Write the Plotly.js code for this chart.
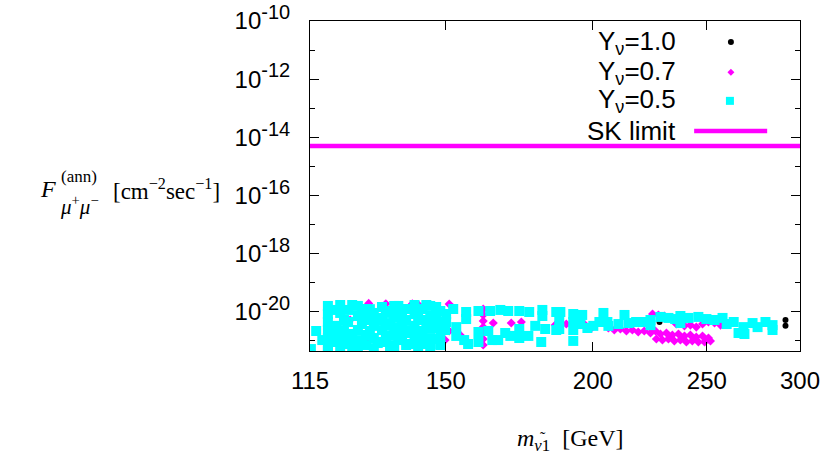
<!DOCTYPE html>
<html>
<head>
<meta charset="utf-8">
<script src="https://cdn.plot.ly/plotly-3.0.1.min.js"></script>
<style>html,body{margin:0;padding:0;background:#fff;}#chart{width:829px;height:459px;}</style>
</head>
<body>
<div id="chart"></div>
<script>
// Y_nu = 1.0 (black)
const massY10 = [227.9, 227.9, 291.6, 291.6];
const fluxY10 = [7.0e-21, 4.35e-21, 5.1e-21, 3.2e-21];

// Y_nu = 0.7 (magenta)
const massY07 = [129.0, 133.4, 140.5, 142.1, 121.0, 129.6, 140.8, 122.5, 129.3, 151.0, 151.0, 149.8,
  161.4, 161.4, 161.4, 161.4, 161.4, 161.4, 161.4, 164.6, 170.5, 173.9, 185.8,
  124.4, 135.8, 145.5, 154.3,
  187.7, 189.9, 197.1, 199.8, 206.2, 208.6, 211.1, 213.6, 216.1, 218.6, 221.2, 223.9, 226.1, 228.3,
  231.0, 233.7, 236.5, 239.3, 242.1, 244.9, 247.9, 250.8,
  226.5, 229.2, 231.9, 234.6, 237.4, 240.2, 243.0, 245.9, 248.9, 251.8,
  224.8, 227.4, 230.1, 235.5, 239.3, 242.1, 244.9, 247.9, 250.8, 253.8, 256.8, 259.9];
const fluxY07 = [1.9e-20, 1.85e-20, 1.85e-20, 1.75e-20, 3.2e-21, 2.5e-21, 2.7e-21, 7.0e-22, 1.04e-21, 1.8e-20, 2.13e-21, 1.04e-21,
  1.22e-20, 7.6e-21, 4.7e-21, 2.9e-21, 1.82e-21, 1.13e-21, 7.0e-22, 4.0e-21, 4.0e-21, 4.35e-21, 3.4e-21,
  5.1e-21, 2.3e-21, 6.0e-21, 1.55e-21,
  4.0e-21, 3.7e-21, 3.4e-21, 2.9e-21, 2.7e-21, 2.3e-21, 2.5e-21, 2.13e-21, 2.3e-21, 1.97e-21, 2.13e-21, 1.82e-21, 2.13e-21, 1.68e-21,
  1.82e-21, 1.55e-21, 1.68e-21, 1.44e-21, 1.55e-21, 1.32e-21, 1.44e-21, 1.22e-21,
  1.13e-21, 1.04e-21, 1.13e-21, 9.7e-22, 1.04e-21, 8.9e-22, 9.7e-22, 8.9e-22, 8.9e-22, 9.7e-22,
  8.2e-21, 7.6e-21, 7.0e-21, 3.7e-21, 3.2e-21, 3.4e-21, 2.9e-21, 3.7e-21, 4.35e-21, 4.0e-21, 3.4e-21, 3.7e-21];

// Y_nu = 0.5 (cyan)
const massY05 = [115.2, 116.4,
  119.1, 119.1, 119.1, 119.1, 119.1, 119.1, 119.1,
  122.0, 122.0, 122.0, 122.0, 121.0,
  123.9, 123.9, 123.9, 123.9,
  126.3, 126.3, 126.3, 126.3, 126.3,
  128.3, 128.3, 128.3, 128.3,
  130.3, 130.3, 130.3, 130.3,
  132.4, 132.4, 132.4, 132.4,
  134.5, 134.5, 134.5, 134.5,
  136.7, 136.7, 136.7, 136.7,
  138.8, 138.8, 138.8, 138.8,
  141.1, 141.1, 141.1, 141.1,
  143.3, 143.3, 143.3, 143.3,
  145.5, 145.5, 145.5, 145.5, 145.5,
  148.4, 148.4, 148.4, 148.4,
  120.6, 120.6, 120.6, 122.9, 122.9, 124.9, 124.9, 124.9, 127.3, 127.3, 127.3,
  129.3, 129.3, 129.3, 131.3, 131.3, 133.4, 133.4, 133.4, 135.6, 135.6, 135.6, 135.6,
  137.7, 137.7, 137.7, 139.9, 139.9, 139.9, 142.1, 142.1, 142.1, 144.4, 144.4, 144.4,
  147.2, 147.2, 147.2, 147.2, 150.1, 150.1, 117.8,
  152.2, 156.1, 156.1, 159.9, 163.6, 166.9, 169.5, 173.2, 176.6, 181.2, 181.2, 186.2,
  146.9, 149.8, 148.4, 153.1, 153.1, 155.5, 156.7, 159.9, 159.9, 163.0, 164.3, 166.2, 168.5, 170.2,
  173.2, 173.2, 176.3, 178.7, 182.2, 180.8, 186.2,
  187.7, 187.3, 187.3, 192.5, 192.5, 192.5, 192.5, 195.9, 195.2, 197.9, 200.2, 202.6, 204.2, 205.8,
  206.2, 210.3, 212.8, 214.5, 217.7, 220.8, 223.9, 223.9, 228.3, 231.9, 235.0, 237.4, 237.4,
  241.2, 245.9, 249.8, 253.8, 257.8, 259.9, 263.5, 266.0, 269.1, 268.6, 273.4, 276.1, 280.4, 284.3, 284.3];
const fluxY05 = [5.1e-22, 2.13e-21,
  1.55e-20, 8.2e-21, 4.35e-21, 2.3e-21, 1.22e-21, 6.5e-22, 4.4e-22,
  1.67e-20, 8.9e-21, 1.13e-21, 6.0e-22, 3.2e-21,
  1.13e-20, 4.35e-21, 1.68e-21, 7.6e-22,
  1.55e-20, 7.0e-21, 2.3e-21, 1.04e-21, 5.1e-22,
  1.22e-20, 5.1e-21, 1.55e-21, 7.0e-22,
  8.9e-21, 3.2e-21, 1.22e-21, 5.5e-22,
  1.43e-20, 6.0e-21, 2.3e-21, 8.9e-22,
  1.04e-20, 4.0e-21, 1.44e-21, 6.0e-22,
  1.55e-20, 7.0e-21, 2.7e-21, 1.04e-21,
  1.22e-20, 5.1e-21, 1.82e-21, 7.0e-22,
  1.67e-20, 8.2e-21, 3.2e-21, 1.13e-21,
  1.22e-20, 5.1e-21, 2.13e-21, 7.6e-22,
  1.55e-20, 7.0e-21, 2.7e-21, 1.22e-21, 6.0e-22,
  1.04e-20, 4.35e-21, 1.68e-21, 7.6e-22,
  1.13e-20, 1.68e-21, 8.9e-22, 5.1e-21, 2.3e-21, 1.67e-20, 1.04e-21, 5.1e-22, 9.6e-21, 3.7e-21, 7.6e-22,
  1.2e-20, 6.0e-21, 2.13e-21, 5.1e-21, 8.2e-22, 8.9e-21, 3.2e-21, 1.13e-21, 1.55e-20, 6.0e-21, 2.13e-21, 6.5e-22,
  9.6e-21, 3.7e-21, 1.44e-21, 1.22e-20, 2.3e-21, 7.6e-22, 7.0e-21, 1.55e-21, 5.5e-22, 1.67e-20, 3.7e-21, 1.04e-21,
  1.43e-20, 7.0e-21, 2.7e-21, 1.13e-21, 8.2e-21, 4.35e-21, 1.04e-21,
  1.22e-20, 9.6e-21, 5.5e-21, 1.04e-20, 1.04e-20, 1.13e-20, 1.04e-20, 1.04e-20, 9.6e-21, 1.13e-20, 7.0e-21, 9.6e-21,
  4.35e-21, 2.3e-21, 7.0e-22, 2.9e-21, 1.44e-21, 1.04e-21, 7.6e-22, 1.97e-21, 8.9e-22, 2.13e-21, 1.04e-21, 1.04e-21, 1.82e-21, 1.44e-21,
  2.5e-21, 1.22e-21, 1.44e-21, 3.2e-21, 2.5e-21, 8.9e-22, 2.3e-21,
  9.6e-21, 4.35e-21, 2.5e-21, 8.2e-21, 4.35e-21, 2.3e-21, 9.7e-22, 7.6e-21, 3.7e-21, 2.7e-21, 3.2e-21, 4.35e-21, 8.9e-21, 4.35e-21,
  3.2e-21, 3.7e-21, 7.6e-21, 4.0e-21, 4.35e-21, 4.35e-21, 5.1e-21, 3.4e-21, 6.5e-21, 6.0e-21, 5.5e-21, 7.0e-21, 4.0e-21,
  6.0e-21, 6.5e-21, 5.5e-21, 5.1e-21, 6.0e-21, 3.7e-21, 4.35e-21, 1.82e-21, 1.68e-21, 2.9e-21, 4.0e-21, 2.9e-21, 4.35e-21, 3.4e-21, 2.3e-21];

// SK limit
const skMass = [115, 300];
const skFlux = [5.0e-15, 5.0e-15];

// Axis ticks
const xTickVals = [115, 150, 200, 250, 300];
const xTickText = ['115', '150', '200', '250', '300'];
const yTickVals = [1e-10, 1e-12, 1e-14, 1e-16, 1e-18, 1e-20];
const yExponents = ['-10', '-12', '-14', '-16', '-18', '-20'];
const yMinorVals = [1e-11, 1e-13, 1e-15, 1e-17, 1e-19, 1e-21];

const legendLabels = ['Y<sub>ν</sub>=1.0', 'Y<sub>ν</sub>=0.7', 'Y<sub>ν</sub>=0.5', 'SK limit'];

const sans = 'Liberation Sans, Arial, sans-serif';
const serif = 'Liberation Serif, DejaVu Serif, serif';

const yTickText = yExponents.map(e => '10<sup><span style="font-size:20px">' + e + '</span></sup>');

const traces = [
  {x: massY10, y: fluxY10, type: 'scatter', mode: 'markers', name: legendLabels[0],
   marker: {symbol: 'circle', size: 6, color: '#000000'}},
  {x: massY07, y: fluxY07, type: 'scatter', mode: 'markers', name: legendLabels[1],
   marker: {symbol: 'diamond', size: 7, color: '#ff00ff'}},
  {x: massY05, y: fluxY05, type: 'scatter', mode: 'markers', name: legendLabels[2],
   marker: {symbol: 'square', size: 10, color: '#00ffff'}},
  {x: skMass, y: skFlux, type: 'scatter', mode: 'lines', name: legendLabels[3],
   line: {color: '#ff00ff', width: 4.5}}
];

// legend (gnuplot style: text left, key right)
const legY = [0.936, 0.845, 0.758, 0.667];
const annotations = legendLabels.map((t, i) => ({
  text: t, xref: 'paper', yref: 'paper', x: 0.751, y: legY[i], xanchor: 'right', yanchor: 'middle',
  showarrow: false, font: {family: sans, size: 26, color: '#000'}
}));
annotations.push(
  {text: '<i>m</i><sub><i>ν</i>1</sub>  [GeV]', xref: 'paper', yref: 'paper', x: 0.531, y: -0.27,
   xanchor: 'center', yanchor: 'middle', showarrow: false, font: {family: serif, size: 24, color: '#000'}},
  {text: '˜', xref: 'paper', yref: 'paper', x: 0.476, y: -0.262,
   xanchor: 'center', yanchor: 'middle', showarrow: false, font: {family: serif, size: 16, color: '#000'}},
  {text: '<i>F</i>', xref: 'paper', yref: 'paper', x: -0.535, y: 0.49,
   xanchor: 'center', yanchor: 'middle', showarrow: false, font: {family: serif, size: 24, color: '#000'}},
  {text: '(ann)', xref: 'paper', yref: 'paper', x: -0.472, y: 0.53,
   xanchor: 'center', yanchor: 'middle', showarrow: false, font: {family: serif, size: 17, color: '#000'}},
  {text: '<i>μ</i><sup>+</sup><i>μ</i><sup>−</sup>', xref: 'paper', yref: 'paper', x: -0.47, y: 0.44,
   xanchor: 'center', yanchor: 'middle', showarrow: false, font: {family: serif, size: 21, color: '#000'}},
  {text: '[cm<sup>−2</sup>sec<sup>−1</sup>]', xref: 'paper', yref: 'paper', x: -0.292, y: 0.49,
   xanchor: 'center', yanchor: 'middle', showarrow: false, font: {family: serif, size: 23, color: '#000'}}
);

const keyX = 0.859;
const shapes = [
  {type: 'circle', xref: 'paper', yref: 'paper', xsizemode: 'pixel', ysizemode: 'pixel',
   xanchor: keyX, yanchor: legY[0], x0: -3, x1: 3, y0: -3, y1: 3, fillcolor: '#000', line: {width: 0}},
  {type: 'path', xref: 'paper', yref: 'paper', xsizemode: 'pixel', ysizemode: 'pixel',
   xanchor: keyX, yanchor: legY[1], path: 'M0,3.5 L3.5,0 L0,-3.5 L-3.5,0 Z', fillcolor: '#ff00ff', line: {width: 0}},
  {type: 'rect', xref: 'paper', yref: 'paper', xsizemode: 'pixel', ysizemode: 'pixel',
   xanchor: keyX - 0.002, yanchor: legY[2], x0: -4, x1: 4, y0: -4, y1: 4, fillcolor: '#00ffff', line: {width: 0}},
  {type: 'line', xref: 'paper', yref: 'paper', x0: 0.784, x1: 0.933, y0: legY[3], y1: legY[3],
   line: {color: '#ff00ff', width: 4.5}}
];

const layout = {
  width: 829, height: 459,
  margin: {l: 310, r: 29, t: 21, b: 108},
  paper_bgcolor: '#ffffff', plot_bgcolor: '#ffffff',
  showlegend: false,
  xaxis: {
    type: 'log', range: [Math.log10(115), Math.log10(300)],
    tickmode: 'array', tickvals: xTickVals, ticktext: xTickText,
    ticks: 'inside', ticklen: 9, tickwidth: 1, tickcolor: '#000',
    showline: true, linecolor: '#000', linewidth: 1, mirror: 'ticks',
    showgrid: false, zeroline: false,
    tickfont: {family: sans, size: 24, color: '#000'}, ticklabelstandoff: 8
  },
  yaxis: {
    type: 'log', range: [-21.36, -10],
    tickmode: 'array', tickvals: yTickVals, ticktext: yTickText,
    ticks: 'inside', ticklen: 9, tickwidth: 1, tickcolor: '#000',
    minor: {tickmode: 'array', tickvals: yMinorVals, ticks: 'inside', ticklen: 5, tickcolor: '#000', showgrid: false},
    showline: true, linecolor: '#000', linewidth: 1, mirror: 'ticks',
    showgrid: false, zeroline: false,
    tickfont: {family: sans, size: 24, color: '#000'}, ticklabelstandoff: 14
  },
  annotations: annotations,
  shapes: shapes
};

Plotly.newPlot('chart', traces, layout, {displayModeBar: false, staticPlot: true});
</script>
</body>
</html>
